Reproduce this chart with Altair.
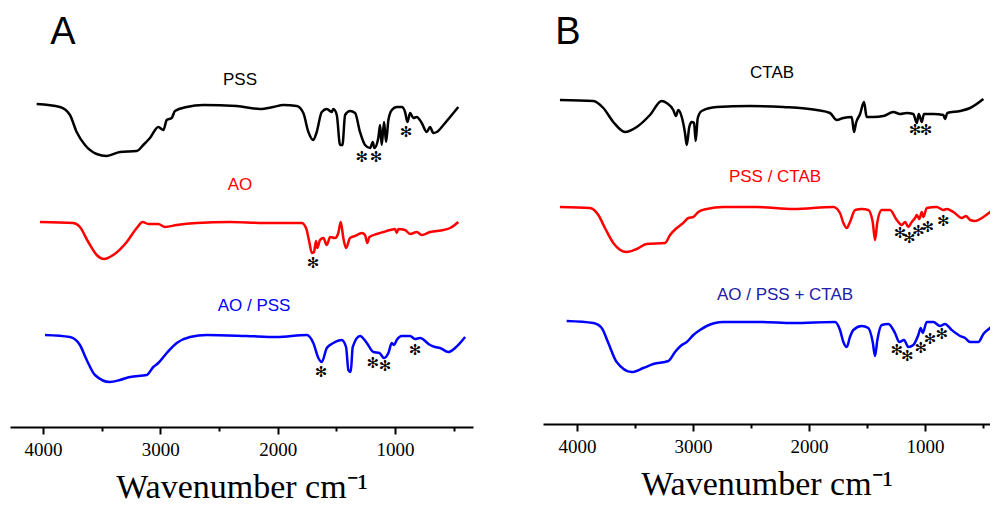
import altair as alt
import pandas as pd

# ---------------- Panel A spectra (wavenumber, intensity a.u.) ----------------
pss_wn = [4054, 3855, 3770, 3713, 3642, 3542, 3457, 3344, 3201, 3145,
          3088, 3017, 2974, 2945, 2903, 2875, 2775, 2633, 2349, 2150,
          2037, 1951, 1837, 1781, 1738, 1696, 1667, 1624, 1581, 1539,
          1525, 1496, 1468, 1448, 1425, 1383, 1340, 1298, 1255, 1212,
          1189, 1176, 1142, 1127, 1113, 1093, 1076, 1056, 1027, 985,
          942, 914, 894, 871, 843, 814, 772, 729, 701, 673,
          644, 587, 530, 460]
pss_val = [323, 320, 312, 295, 282, 273, 271, 275, 276, 282,
           289, 300, 297, 307, 309, 316, 320, 322, 321, 318,
           320, 322, 321, 314, 295, 287, 295, 315, 318, 315,
           318, 312, 282, 282, 312, 316, 314, 295, 282, 279,
           285, 279, 289, 302, 282, 305, 285, 307, 317, 320,
           320, 315, 305, 314, 309, 310, 304, 295, 300, 294,
           295, 302, 310, 320]

ao_wn = [4026, 3742, 3685, 3614, 3542, 3480, 3401, 3286, 3201, 3150,
         3102, 3017, 2960, 2860, 2690, 2406, 2122, 1795, 1758, 1730,
         1709, 1690, 1673, 1662, 1639, 1610, 1581, 1553, 1511, 1483,
         1462, 1440, 1417, 1383, 1340, 1283, 1255, 1236, 1218, 1155,
         1099, 1042, 999, 985, 971, 914, 871, 814, 772, 701,
         587, 530, 460]
ao_val = [205, 204, 200, 185, 172, 168, 172, 185, 199, 205,
          203, 203, 200, 202, 204, 205, 204, 204, 199, 185,
          174, 175, 186, 179, 187, 189, 182, 190, 189, 194,
          205, 189, 179, 189, 191, 194, 192, 184, 190, 193,
          195, 197, 198, 194, 198, 197, 193, 195, 192, 195,
          197, 199, 205]

aopss_wn = [3983, 3770, 3685, 3627, 3557, 3429, 3344, 3258, 3116, 3060,
            3017, 2945, 2860, 2747, 2604, 2263, 2008, 1752, 1696, 1653,
            1624, 1581, 1525, 1454, 1417, 1397, 1377, 1360, 1298, 1240,
            1184, 1133, 1093, 1056, 1027, 1008, 985, 942, 871, 829,
            786, 701, 658, 616, 545, 488, 402]
aopss_val = [92, 90, 82, 67, 52, 45, 47, 50, 52, 60,
             64, 74, 84, 90, 92, 91, 90, 92, 84, 69,
             65, 79, 84, 87, 80, 57, 55, 80, 91, 84,
             75, 74, 69, 74, 84, 82, 87, 91, 91, 88,
             89, 82, 80, 79, 75, 79, 90]

# ---------------- Panel B spectra ----------------
ctab_wn = [4147, 3859, 3773, 3687, 3586, 3485, 3371, 3270, 3227, 3170,
           3147, 3127, 3097, 3069, 3054, 3032, 3011, 2991, 2977, 2959,
           2925, 2796, 2509, 2221, 1934, 1819, 1761, 1704, 1632, 1612,
           1595, 1560, 1526, 1503, 1446, 1359, 1273, 1215, 1158, 1101,
           1071, 1054, 1028, 1009, 928, 842, 828, 808, 698, 612,
           497]
ctab_val = [324, 323, 316, 302, 292, 297, 309, 323, 321, 314,
            308, 314, 307, 291, 279, 297, 302, 301, 283, 306,
            313, 317, 318, 317, 314, 311, 304, 306, 307, 292,
            301, 310, 322, 307, 307, 308, 312, 310, 311, 310,
            301, 310, 302, 310, 310, 309, 305, 311, 313, 316,
            325]

pssctab_wn = [4147, 3888, 3816, 3759, 3687, 3572, 3485, 3399, 3241, 3198,
              3140, 3084, 3040, 2997, 2954, 2882, 2739, 2451, 2135, 1790,
              1733, 1704, 1675, 1647, 1603, 1546, 1489, 1451, 1431, 1411,
              1373, 1302, 1244, 1201, 1172, 1144, 1115, 1086, 1071, 1049,
              1028, 1014, 985, 899, 842, 813, 756, 683, 646, 612,
              569, 497, 396]
pssctab_val = [217, 216, 209, 196, 181, 172, 175, 180, 181, 189,
               196, 201, 206, 207, 212, 215, 217, 217, 215, 217,
               211, 201, 196, 202, 214, 215, 214, 202, 184, 202,
               214, 214, 204, 199, 202, 197, 202, 206, 209, 205,
               212, 207, 216, 217, 214, 215, 212, 206, 208, 204,
               203, 207, 216]

aopssctab_wn = [4089, 3859, 3787, 3730, 3658, 3528, 3428, 3342, 3213, 3155,
                3097, 3054, 2997, 2940, 2882, 2739, 2422, 2135, 1776, 1733,
                1704, 1675, 1647, 1618, 1546, 1489, 1451, 1431, 1411, 1373,
                1316, 1259, 1221, 1181, 1144, 1101, 1058, 1037, 1020, 985,
                928, 871, 828, 770, 698, 655, 612, 540, 497, 440,
                382]
aopssctab_val = [103, 101, 96, 81, 62, 52, 56, 60, 63, 72,
                 79, 82, 89, 94, 98, 102, 102, 101, 102, 94,
                 82, 77, 87, 94, 98, 96, 82, 68, 84, 99,
                 100, 91, 82, 84, 77, 79, 89, 96, 91, 102,
                 102, 98, 100, 94, 88, 86, 82, 82, 90, 96,
                 102]

# ---------------- labels ----------------
labels_a_text = ["PSS", "AO", "AO / PSS"]
labels_a_wn = [2321, 2321, 2201]
labels_a_val = [347, 242, 121]
labels_a_col = ["#000000", "#ff0000", "#0000ff"]

labels_b_text = ["CTAB", "PSS / CTAB", "AO / PSS + CTAB"]
labels_b_wn = [2319, 2293, 2207]
labels_b_val = [351, 247, 129]
labels_b_col = ["#000000", "#ff0000", "#2020a8"]

stars_a_wn = [1283, 1161, 905, 1698, 1630, 1189, 1084, 829]
stars_a_val = [270, 270, 295, 164, 55, 64, 61, 77]
stars_b_wn = [1086, 991, 1215, 1135, 1058, 977, 842, 1244, 1152, 1037, 957, 856]
stars_b_val = [294, 294, 191, 186, 193, 197, 203, 74, 68, 76, 85, 90]

major_ticks = [4000, 3000, 2000, 1000]
minor_ticks = [3500, 2500, 1500, 500]


def spectra_df(items):
    frames = []
    for name, wn, val in items:
        frames.append(pd.DataFrame({"wn": wn, "val": val, "series": name}))
    return pd.concat(frames, ignore_index=True)


def panel(items, colors, lab_text, lab_wn, lab_val, lab_col, letter, letter_wn,
          letter_val, star_wn, star_val, xdom, w, h):
    xs = alt.Scale(domain=xdom, nice=False, zero=False)
    ys = alt.Scale(domain=[0, h], nice=False, zero=False)
    major = alt.Axis(values=major_ticks, format="d", grid=False, orient="bottom",
                     domainColor="black", domainWidth=2, tickColor="black",
                     tickWidth=2, tickSize=7, labelFont="Liberation Serif",
                     labelFontSize=19, labelColor="black", labelPadding=6,
                     title="Wavenumber cm\u207b\u00b9", titleFont="Liberation Serif",
                     titleFontSize=34, titleFontWeight="normal",
                     titleColor="black", titlePadding=11)
    minor = alt.Axis(values=minor_ticks, labels=False, domain=False, orient="bottom",
                     grid=False, tickColor="black", tickWidth=2, tickSize=4,
                     title=None)
    df = spectra_df(items)
    names = [it[0] for it in items]
    lines = alt.Chart(df).mark_line(strokeWidth=2.5, interpolate="monotone",
                                    clip=True).encode(
        x=alt.X("wn:Q", scale=xs, axis=major),
        y=alt.Y("val:Q", scale=ys, axis=None),
        color=alt.Color("series:N", scale=alt.Scale(domain=names, range=colors),
                        legend=None),
        detail="series:N",
    )
    lab_df = pd.DataFrame({"wn": lab_wn, "val": lab_val, "t": lab_text, "c": lab_col})
    labels = alt.Chart(lab_df).mark_text(font="Liberation Sans", fontSize=17,
                                         baseline="middle", align="center").encode(
        x=alt.X("wn:Q", scale=xs, axis=None),
        y=alt.Y("val:Q", scale=ys, axis=None),
        text="t:N",
        fill=alt.Fill("c:N", scale=None),
    )
    let_df = pd.DataFrame({"wn": [letter_wn], "val": [letter_val], "t": [letter]})
    let_layer = alt.Chart(let_df).mark_text(font="Liberation Sans", fontSize=38,
                                            baseline="middle", align="center",
                                            fill="black").encode(
        x=alt.X("wn:Q", scale=xs, axis=None),
        y=alt.Y("val:Q", scale=ys, axis=None),
        text="t:N",
    )
    st_df = pd.DataFrame({"wn": star_wn, "val": star_val, "t": ["\u273b"] * len(star_wn)})
    stars = alt.Chart(st_df).mark_text(font="DejaVu Sans", fontSize=15,
                                       baseline="middle", align="center",
                                       fill="black").encode(
        x=alt.X("wn:Q", scale=xs, axis=minor),
        y=alt.Y("val:Q", scale=ys, axis=None),
        text="t:N",
    )
    return alt.layer(lines, labels, let_layer, stars).resolve_axis(
        x="independent").properties(width=w, height=h)


pa = panel([("PSS", pss_wn, pss_val), ("AO", ao_wn, ao_val),
            ("AO / PSS", aopss_wn, aopss_val)],
           ["#000000", "#ff0000", "#0000ff"],
           labels_a_text, labels_a_wn, labels_a_val, labels_a_col,
           "A", 3830, 394, stars_a_wn, stars_a_val, [4281, 335], 463, 419)

pb = panel([("CTAB", ctab_wn, ctab_val), ("PSS / CTAB", pssctab_wn, pssctab_val),
            ("AO / PSS + CTAB", aopssctab_wn, aopssctab_val)],
           ["#000000", "#ff0000", "#0000ff"],
           labels_b_text, labels_b_wn, labels_b_val, labels_b_col,
           "B", 4078, 391, stars_b_wn, stars_b_val, [4293, 440], 447, 416)

chart = alt.hconcat(pa, pb, spacing=70).configure_view(stroke=None).properties(
    padding={"left": 2, "top": 0, "right": 0, "bottom": 0}, background="white")

chart.save("out.html", embed_options={"renderer": "svg", "actions": False})
